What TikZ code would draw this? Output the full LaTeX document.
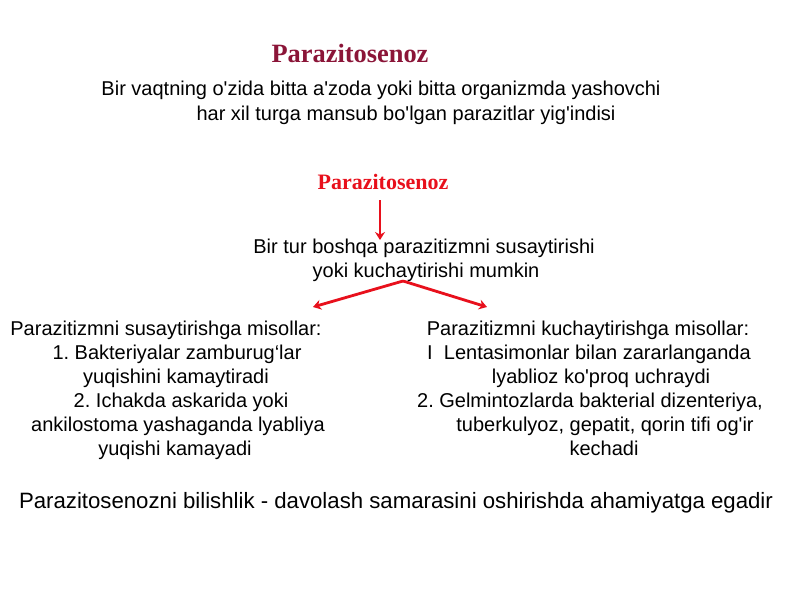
\documentclass[tikz,border=0pt]{standalone}
\usepackage{fontspec}
\setmainfont{Liberation Sans}[Ligatures=TeXOff]
\newfontfamily\titlefont{Liberation Serif}[Ligatures=TeXOff]
\usetikzlibrary{arrows.meta}
\definecolor{darkred}{HTML}{8B1538}
\definecolor{brightred}{HTML}{E8101C}
\begin{document}
\frenchspacing
\begin{tikzpicture}[x=1pt,y=-1pt,
  txt/.style={anchor=base,inner sep=0pt,font=\fontsize{20}{22}\selectfont,text=black},
  bigtxt/.style={anchor=base,inner sep=0pt,font=\fontsize{22.2}{24}\selectfont,text=black},
  ttl/.style={anchor=base,inner sep=0pt,font=\titlefont\bfseries\fontsize{26.4}{28}\selectfont,text=darkred},
  ttltwo/.style={anchor=base,inner sep=0pt,font=\titlefont\bfseries\fontsize{22}{24}\selectfont,text=brightred},
  redarrow/.style={draw=brightred,line width=2.8pt,-{Stealth[length=8pt,width=10pt]}}]
\useasboundingbox[fill=white] (0,0) rectangle (800,600);
\node[ttl] (title) at (350,62) {Parazitosenoz};
\node[txt] (def1) at (381,95) {Bir vaqtning o'zida bitta a'zoda yoki bitta organizmda yashovchi};
\node[txt] (def2) at (406,120) {har xil turga mansub bo'lgan parazitlar yig'indisi};
\node[ttltwo] (title2) at (383,189) {Parazitosenoz};
\node[txt] (mid1) at (424,253) {Bir tur boshqa parazitizmni susaytirishi};
\node[txt] (mid2) at (426,277) {yoki kuchaytirishi mumkin};
\coordinate (split) at (403,281);
\coordinate (lefttip) at (313,307);
\coordinate (righttip) at (487,307);
\node[txt] (l1) at (166,335) {Parazitizmni susaytirishga misollar:};
\node[txt] (l2) at (177,359) {1. Bakteriyalar zamburug‘lar};
\node[txt] (l3) at (176,383) {yuqishini kamaytiradi};
\node[txt] (l4) at (181,407) {2. Ichakda askarida yoki};
\node[txt] (l5) at (178,431) {ankilostoma yashaganda lyabliya};
\node[txt] (l6) at (175,455) {yuqishi kamayadi};
\node[txt] (r1) at (588,335) {Parazitizmni kuchaytirishga misollar:};
\node[txt] (r2) at (589,359) {I\ \ Lentasimonlar bilan zararlanganda};
\node[txt] (r3) at (601,383) {lyablioz ko'proq uchraydi};
\node[txt] (r4) at (590,407) {2. Gelmintozlarda bakterial dizenteriya,};
\node[txt] (r5) at (605,431) {tuberkulyoz, gepatit, qorin tifi og'ir};
\node[txt] (r6) at (604,455) {kechadi};
\node[bigtxt] (bottom) at (396,508) {Parazitosenozni bilishlik - davolash samarasini oshirishda ahamiyatga egadir};
\draw[redarrow] (title2.south -| 380,0) ++(0,11) -- (380,240);
\draw[redarrow] (split) -- (lefttip);
\draw[redarrow] (split) -- (righttip);
\end{tikzpicture}
\end{document}
